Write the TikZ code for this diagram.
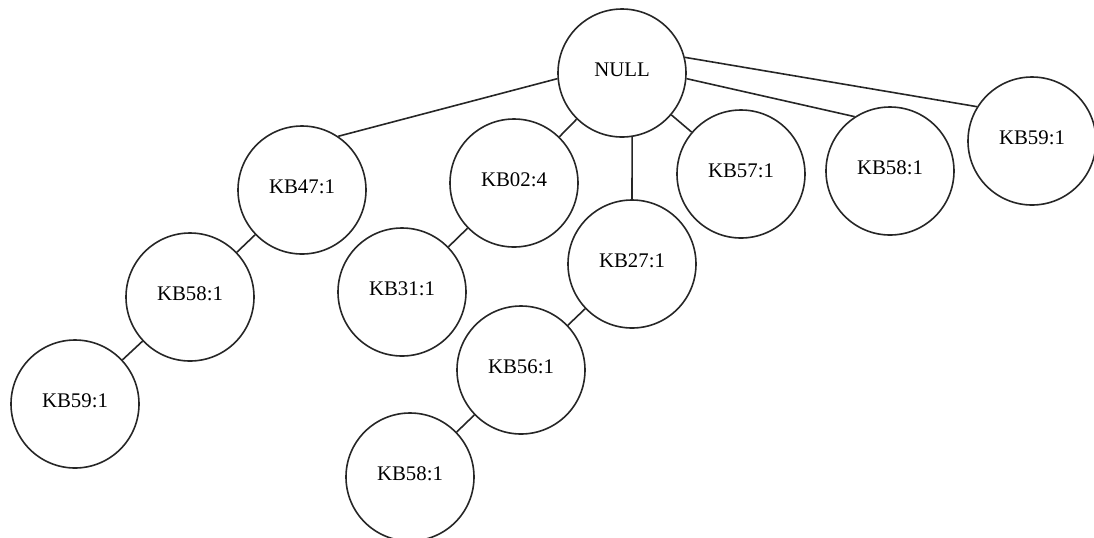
\documentclass[tikz,border=0pt]{standalone}
\usepackage{fontspec}
\setmainfont{Liberation Serif}
\begin{document}
\begin{tikzpicture}[x=0.5pt,y=-0.5pt,
    kbnode/.style={circle,draw=black!85,line width=0.8pt,minimum size=64pt,inner sep=0pt,
      text depth=3pt,font=\fontsize{10.4}{12}\selectfont},
    link/.style={draw=black!85,line width=0.8pt}]
    \useasboundingbox (0,0) rectangle (1094,537);
    \node[kbnode] (null) at (622,73) {NULL};
    \node[kbnode] (kb47) at (302,190) {KB47:1};
    \node[kbnode] (kb02) at (514,183) {KB02:4};
    \node[kbnode] (kb27) at (632,264) {KB27:1};
    \node[kbnode] (kb57) at (741,174) {KB57:1};
    \node[kbnode] (kb58r) at (890,171) {KB58:1};
    \node[kbnode] (kb59r) at (1032,141) {KB59:1};
    \node[kbnode] (kb58a) at (190,297) {KB58:1};
    \node[kbnode] (kb59a) at (75,404) {KB59:1};
    \node[kbnode] (kb31) at (402,292) {KB31:1};
    \node[kbnode] (kb56) at (521,370) {KB56:1};
    \node[kbnode] (kb58b) at (410,477) {KB58:1};
    % children of the root
    \draw[link] (null.185) -- (kb47.56);
    \draw[link] (null) -- (kb02);
    \draw[link] (null.-81) -- (kb27.north);
    \draw[link] (null) -- (kb57);
    \draw[link] (null.-5) -- (kb58r.123);
    \draw[link] (null.14) -- (kb59r.148);
    % deeper branches
    \draw[link] (kb47) -- (kb58a);
    \draw[link] (kb58a) -- (kb59a);
    \draw[link] (kb02) -- (kb31);
    \draw[link] (kb27) -- (kb56);
    \draw[link] (kb56) -- (kb58b);
\end{tikzpicture}
\end{document}
